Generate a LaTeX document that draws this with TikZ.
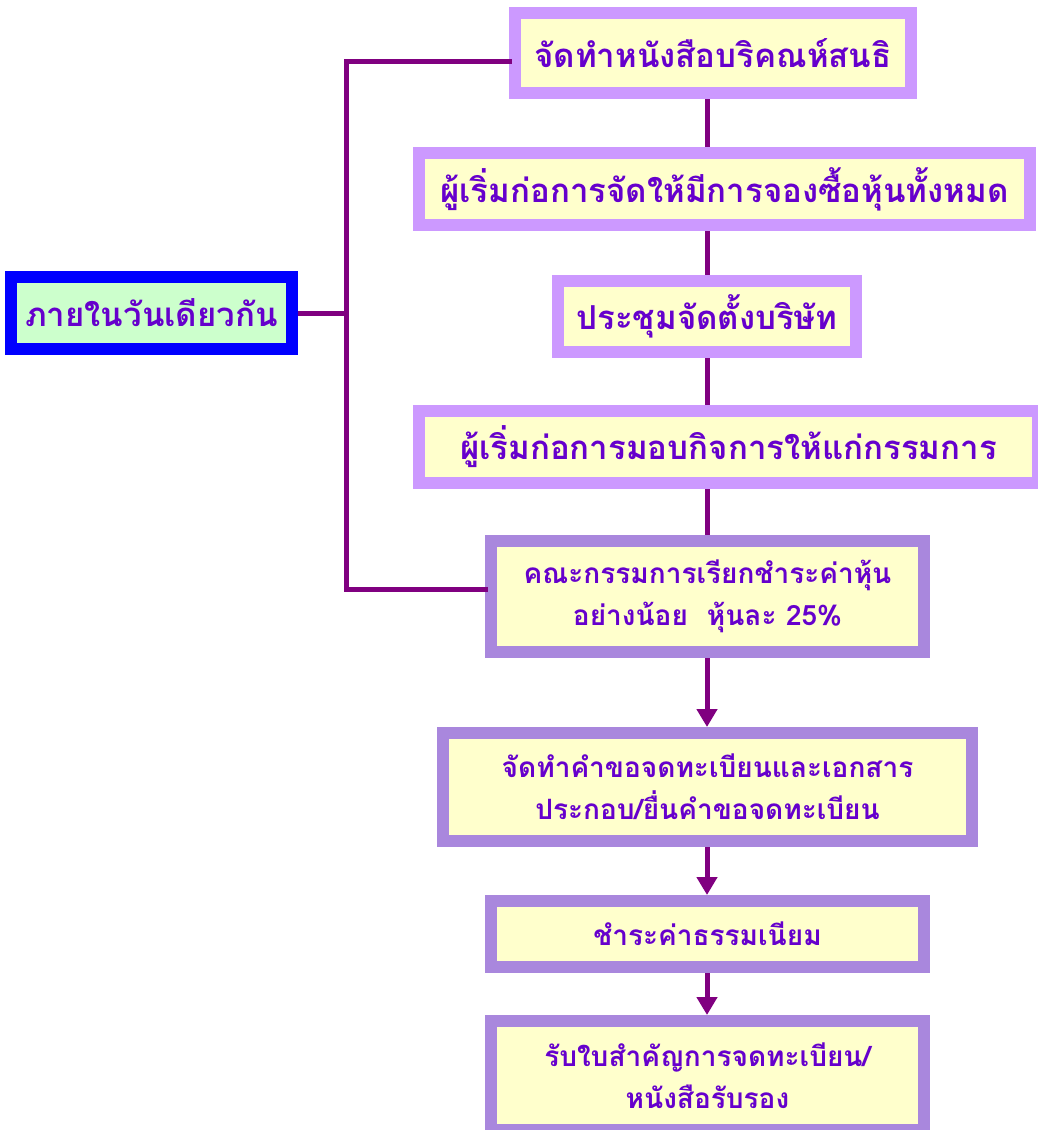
\documentclass[tikz,border=0pt]{standalone}
\usepackage{fontspec}
\setmainfont[Script=Thai]{Loma}
\usetikzlibrary{arrows.meta}
\definecolor{bordA}{HTML}{CC99FF}
\definecolor{bordB}{HTML}{A987DD}
\definecolor{boxfill}{HTML}{FFFFCC}
\definecolor{leftfill}{HTML}{CCFFCC}
\definecolor{txt}{HTML}{6600CC}
\definecolor{conn}{HTML}{800080}
\tikzset{
  x=1pt, y=-1pt,
  boxA/.style={draw=bordA, fill=boxfill, line width=12pt, inner sep=0pt, text=txt, font=\fontsize{33}{40}\selectfont\bfseries, align=center},
  boxB/.style={draw=bordB, fill=boxfill, line width=12pt, inner sep=0pt, text=txt, font=\fontsize{28}{42}\selectfont\bfseries, align=center},
  leftbox/.style={draw=blue, fill=leftfill, line width=12pt, inner sep=0pt, text=txt, font=\fontsize{33}{40}\selectfont\bfseries, align=center},
  link/.style={draw=conn, line width=5pt},
  arr/.style={draw=conn, line width=5pt, -{Triangle[length=18pt,width=20pt]}},
}
% place a box by outer extents: x1,y1,x2,y2
\newcommand{\obox}[7]{\node[#1, minimum width={#4-#2-12}, minimum height={#5-#3-12}] (#6) at ({(#2+#4)/2},{(#3+#5)/2}) {#7};}
\begin{document}
\begin{tikzpicture}
\useasboundingbox (0,0) rectangle (1038,1130);
\fill[white] (0,0) rectangle (1038,1130);
\obox{boxA}{509}{7}{917}{99}{b1}{จัดทำหนังสือบริคณห์สนธิ}
\obox{boxA}{413}{147}{1036}{231}{b2}{ผู้เริ่มก่อการจัดให้มีการจองซื้อหุ้นทั้งหมด}
\obox{boxA}{552}{275}{862}{358}{b3}{ประชุมจัดตั้งบริษัท}
\obox{boxA}{413}{405}{1044}{489}{b4}{ผู้เริ่มก่อการมอบกิจการให้แก่กรรมการ}
\obox{boxB}{485}{535}{930}{658}{b5}{คณะกรรมการเรียกชำระค่าหุ้น\\อย่างน้อย\ \ หุ้นละ 25\%}
\obox{boxB}{437}{727}{978}{847}{b6}{จัดทำคำขอจดทะเบียนและเอกสาร\\ประกอบ/ยื่นคำขอจดทะเบียน}
\obox{boxB}{485}{895}{930}{973}{b7}{ชำระค่าธรรมเนียม}
\obox{boxB}{485}{1015}{930}{1136}{b8}{รับใบสำคัญการจดทะเบียน/\\หนังสือรับรอง}
\obox{leftbox}{5}{271}{298}{355}{lb}{ภายในวันเดียวกัน}
\coordinate (sp) at (707,0);
\coordinate (br) at (346,0);
\draw[link] (b1.south -| sp) -- (b2.north -| sp);
\draw[link] (b2.south -| sp) -- (b3.north -| sp);
\draw[link] (b3.south -| sp) -- (b4.north -| sp);
\draw[link] (b4.south -| sp) -- (b5.north -| sp);
\draw[arr] (b5.south -| sp) -- (b6.north -| sp);
\draw[arr] (b6.south -| sp) -- (b7.north -| sp);
\draw[arr] (b7.south -| sp) -- (b8.north -| sp);
% bracket
\coordinate (bt) at (346,61);
\coordinate (bb) at (346,589);
\draw[link, line cap=rect] (bt -| b1.west) -- (bt) -- (bb) -- (bb -| b5.west);
\draw[link] (lb.east) -- (lb.east -| br);
\end{tikzpicture}
\end{document}
